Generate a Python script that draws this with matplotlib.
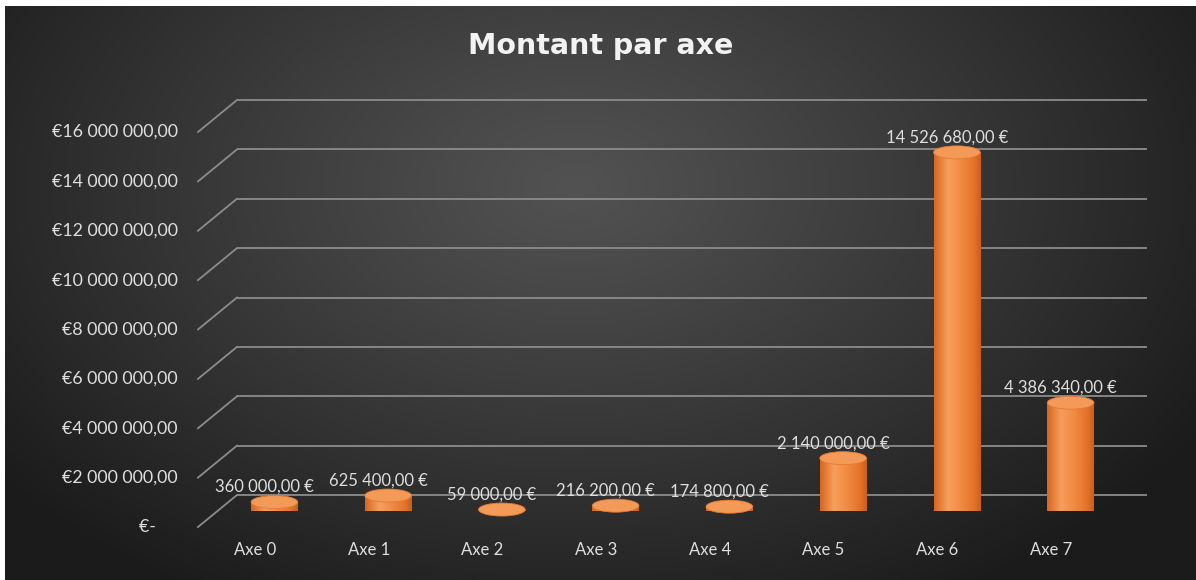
import numpy as np
import matplotlib
matplotlib.use('Agg')
import matplotlib.pyplot as plt
from matplotlib.patches import Ellipse

# chart data
categories = ['Axe 0', 'Axe 1', 'Axe 2', 'Axe 3', 'Axe 4', 'Axe 5', 'Axe 6', 'Axe 7']
amounts = [360000.0, 625400.0, 59000.0, 216200.0, 174800.0, 2140000.0, 14526680.0, 4386340.0]
tick_values = [0, 2e6, 4e6, 6e6, 8e6, 10e6, 12e6, 14e6, 16e6]


def euro(v):
    # French style grouping: "14 526 680,00 €"
    s = '{:,.2f}'.format(v).replace(',', ' ').replace('.', ',')
    return s + ' €'


def euro_axis(v):
    if v == 0:
        return '€-     '
    s = '{:,.2f}'.format(v).replace(',', ' ').replace('.', ',')
    return '€' + s


W, H = 1196, 580
fig = plt.figure(figsize=(W / 100, H / 100), dpi=100, facecolor='white')

# dark radial background
bg = fig.add_axes([5 / W, 0, 1 - 5 / W, (H - 6) / H])
yy, xx = np.mgrid[0:H - 6, 0:W - 5]
d = np.sqrt(((xx - 570) / 720.0) ** 2 + ((yy - 180) / 470.0) ** 2)
g = np.clip(82 - 54 * d ** 1.1, 27, 90) / 255.0
bg.imshow(np.dstack([g, g, g]), aspect='auto', interpolation='bilinear')
bg.axis('off')

# plotting plane (the plane where the cylinders stand)
left, right, bottom, top = 217.5, 1127.5, 511, 116
ax = fig.add_axes([left / W, (H - bottom) / H, (right - left) / W, (bottom - top) / H])
ax.set_xlim(-0.5, 7.5)
ax.set_ylim(0, 16e6)
ax.patch.set_alpha(0)
for s in ax.spines.values():
    s.set_visible(False)
ax.set_xticks([])
ax.set_yticks([])

px_x = 8.0 / (right - left)
px_y = 16e6 / (bottom - top)
ddx, ddy = 19.5 * px_x, 16 * px_y   # half depth of the 3d box

grid_c = '#8c8c8c'
txt_c = '#dedede'
font = ['Lato', 'DejaVu Sans']
fs = 12

# back wall gridlines and the slanted side wall
for v in tick_values:
    ax.plot([-0.5 + ddx, 7.5 + ddx], [v + ddy, v + ddy], color=grid_c, lw=1.3,
            clip_on=False, zorder=1, solid_capstyle='butt')
    ax.plot([-0.5 - ddx, -0.5 + ddx], [v - ddy, v + ddy], color=grid_c, lw=1.3,
            clip_on=False, zorder=1)
    ax.text(-0.5 - ddx - 20 * px_x, v - ddy, euro_axis(v), ha='right', va='center',
            fontsize=12.8, color=txt_c, family=font)

# cylinders
w = 0.41
eh = 13 * px_y
stops = [0.0, 0.3, 0.55, 0.85, 1.0]
cols = np.array([[0.84, 0.40, 0.12], [0.97, 0.62, 0.36], [0.95, 0.55, 0.27],
                 [0.90, 0.45, 0.16], [0.80, 0.37, 0.10]])
t = np.linspace(0, 1, 256)
grad = np.dstack([np.interp(t, stops, cols[:, k]) for k in range(3)])

x = np.arange(len(categories))
bars = ax.bar(x, amounts, width=w, color='#ef8338', zorder=3, linewidth=0)
for i, (b, v) in enumerate(zip(bars, amounts)):
    im = ax.imshow(grad, extent=[i - w / 2, i + w / 2, -eh, v], aspect='auto',
                   zorder=3.1, interpolation='bilinear')
    im.set_clip_path(b)
    base = Ellipse((i, 0), w, eh, facecolor='#ef8338', lw=0, zorder=2.9)
    ax.add_patch(base)
    im2 = ax.imshow(grad, extent=[i - w / 2, i + w / 2, -eh, eh], aspect='auto',
                    zorder=3.0, interpolation='bilinear')
    im2.set_clip_path(base)
    ax.add_patch(Ellipse((i, v), w, eh, facecolor='#f39a58', edgecolor='#e8792f',
                         lw=0.6, zorder=3.5, clip_on=False))
    ax.text(i - 10 * px_x, v + 15 * px_y, euro(v), ha='center', va='center',
            fontsize=fs, color=txt_c, family=font, zorder=5, clip_on=False)
    ax.text(i - ddx, -ddy - 23 * px_y, categories[i], ha='center', va='center',
            fontsize=fs, color=txt_c, family=font, clip_on=False)

fig.text(601 / W, 1 - 46 / H, 'Montant par axe', ha='center', va='center',
         fontsize=20.5, fontweight='bold', color='#f2f2f2', family='DejaVu Sans')

fig.savefig('out.png', dpi=100, facecolor=fig.get_facecolor())
